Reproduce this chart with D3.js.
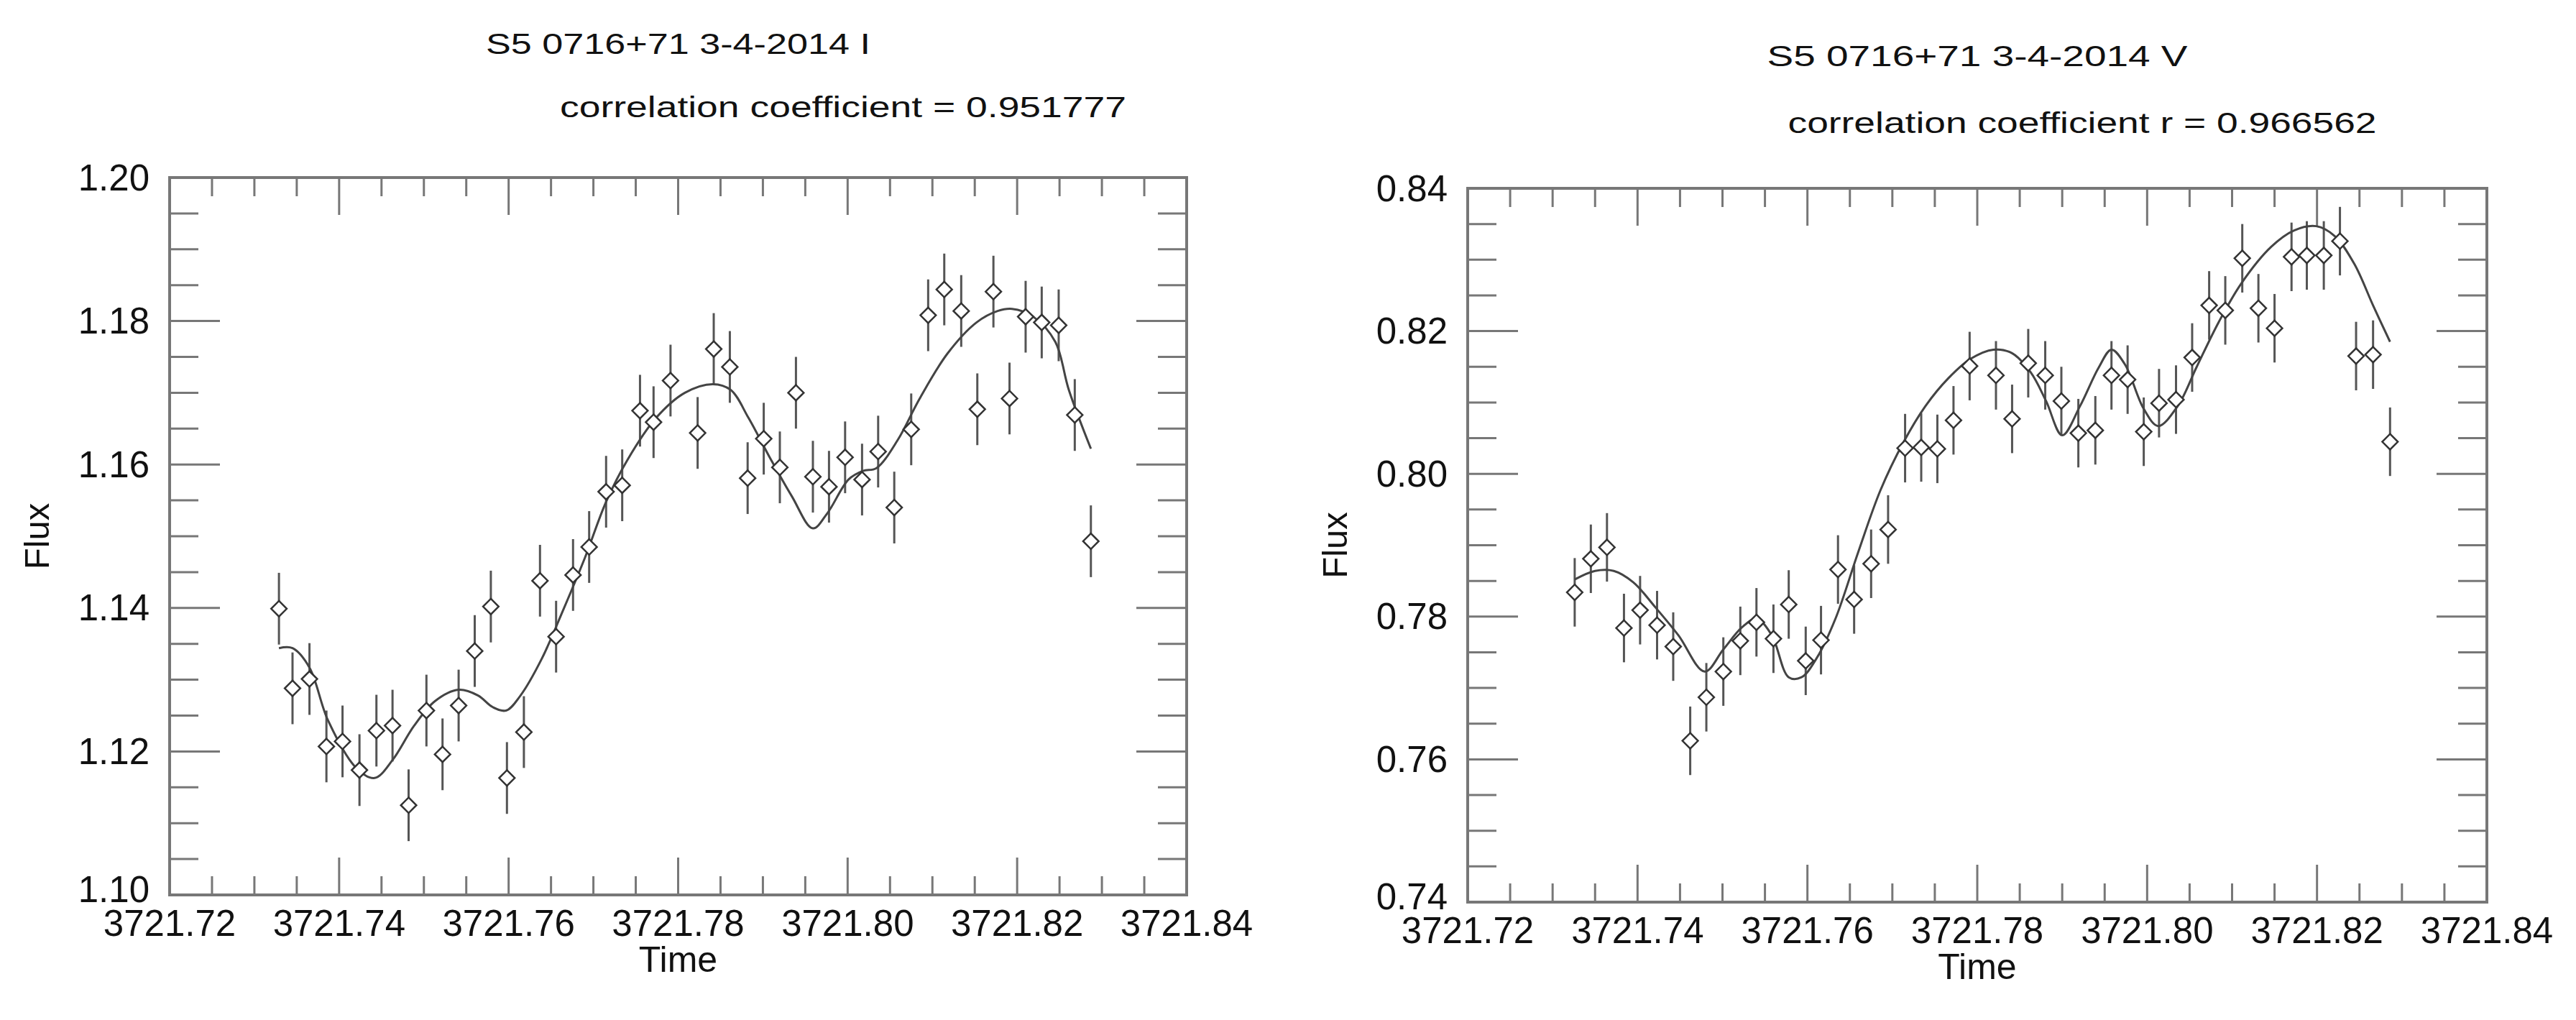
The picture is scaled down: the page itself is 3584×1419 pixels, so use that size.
<!DOCTYPE html>
<html><head><meta charset="utf-8">
<script src="https://cdn.jsdelivr.net/npm/d3@7"></script>
<style>body{margin:0;background:#fff}svg{display:block}text{font-family:"Liberation Sans",Arial,sans-serif;fill:#111}</style>
</head><body>
<script>
// ---- data ----
const timeI = [3721.7329,3721.7345,3721.7365,3721.7385,3721.7404,3721.7424,3721.7444,3721.7463,3721.7482,3721.7503,3721.7522,3721.7541,3721.7560,3721.7579,3721.7598,3721.7618,3721.7637,3721.7656,3721.7676,3721.7695,3721.7715,3721.7734,3721.7755,3721.7771,3721.7791,3721.7823,3721.7842,3721.7861,3721.7882,3721.7901,3721.7920,3721.7939,3721.7959,3721.7978,3721.7997,3721.8017,3721.8036,3721.8055,3721.8075,3721.8095,3721.8114,3721.8134,3721.8153,3721.8172,3721.8191,3721.8210,3721.8229,3721.8249,3721.8268,3721.8287];
const fluxI = [1.1399,1.1288,1.1301,1.1207,1.1214,1.1174,1.1229,1.1236,1.1125,1.1257,1.1196,1.1264,1.1340,1.1402,1.1163,1.1227,1.1438,1.1360,1.1446,1.1485,1.1562,1.1571,1.1675,1.1659,1.1717,1.1644,1.1761,1.1736,1.1581,1.1636,1.1596,1.1700,1.1583,1.1569,1.1610,1.1579,1.1618,1.1540,1.1649,1.1808,1.1844,1.1814,1.1677,1.1841,1.1692,1.1806,1.1798,1.1794,1.1669,1.1493];
const errI = 0.005;
const fitTimeI = [3721.7329,3721.7345,3721.7365,3721.7387,3721.7421,3721.7442,3721.7463,3721.7488,3721.7513,3721.7541,3721.7564,3721.7581,3721.7597,3721.7614,3721.7639,3721.7665,3721.7690,3721.7715,3721.7740,3721.7774,3721.7808,3721.7841,3721.7862,3721.7883,3721.7908,3721.7934,3721.7959,3721.7976,3721.8001,3721.8018,3721.8034,3721.8059,3721.8085,3721.8118,3721.8152,3721.8177,3721.8194,3721.8219,3721.8245,3721.8261,3721.8287];
const fitFluxI = [1.1344,1.1344,1.1317,1.1243,1.1176,1.1163,1.1188,1.1235,1.1270,1.1286,1.1278,1.1262,1.1257,1.1278,1.1329,1.1399,1.1470,1.1548,1.1606,1.1665,1.1700,1.1712,1.1704,1.1665,1.1610,1.1556,1.1511,1.1532,1.1579,1.1591,1.1595,1.1634,1.1692,1.1755,1.1798,1.1814,1.1817,1.1806,1.1771,1.1704,1.1622];

const timeV = [3721.7326,3721.7345,3721.7364,3721.7384,3721.7403,3721.7423,3721.7442,3721.7462,3721.7481,3721.7501,3721.7521,3721.7540,3721.7560,3721.7578,3721.7598,3721.7616,3721.7636,3721.7655,3721.7675,3721.7695,3721.7715,3721.7734,3721.7753,3721.7772,3721.7791,3721.7822,3721.7841,3721.7860,3721.7880,3721.7899,3721.7919,3721.7939,3721.7958,3721.7977,3721.7996,3721.8014,3721.8034,3721.8053,3721.8073,3721.8092,3721.8112,3721.8131,3721.8150,3721.8170,3721.8188,3721.8208,3721.8227,3721.8246,3721.8266,3721.8286];
const fluxV = [0.7834,0.7881,0.7897,0.7784,0.7809,0.7788,0.7758,0.7626,0.7687,0.7723,0.7766,0.7792,0.7769,0.7817,0.7738,0.7767,0.7866,0.7824,0.7874,0.7922,0.8036,0.8037,0.8035,0.8075,0.8151,0.8138,0.8077,0.8155,0.8138,0.8102,0.8057,0.8061,0.8138,0.8132,0.8059,0.8099,0.8104,0.8163,0.8236,0.8229,0.8302,0.8232,0.8204,0.8304,0.8306,0.8306,0.8326,0.8165,0.8167,0.8045];
const errV = 0.0048;
const fitTimeV = [3721.7326,3721.7350,3721.7372,3721.7395,3721.7421,3721.7448,3721.7479,3721.7501,3721.7523,3721.7540,3721.7558,3721.7578,3721.7593,3721.7611,3721.7633,3721.7660,3721.7686,3721.7713,3721.7739,3721.7766,3721.7792,3721.7819,3721.7841,3721.7863,3721.7881,3721.7900,3721.7921,3721.7943,3721.7958,3721.7974,3721.7996,3721.8013,3721.8036,3721.8058,3721.8084,3721.8111,3721.8146,3721.8173,3721.8199,3721.8221,3721.8244,3721.8266,3721.8286];
const fitFluxV = [0.7852,0.7864,0.7864,0.7848,0.7813,0.7774,0.7723,0.7754,0.7785,0.7797,0.7774,0.7715,0.7715,0.7742,0.7797,0.7891,0.7977,0.8044,0.8095,0.8134,0.8161,0.8174,0.8169,0.8142,0.8102,0.8054,0.8095,0.8149,0.8174,0.8153,0.8091,0.8067,0.8095,0.8149,0.8212,0.8267,0.8318,0.8341,0.8347,0.8333,0.8294,0.8236,0.8185];

const xTicks = [3721.72,3721.74,3721.76,3721.78,3721.80,3721.82,3721.84];
const yTicksI = [1.10,1.12,1.14,1.16,1.18,1.20];
const yTicksV = [0.74,0.76,0.78,0.80,0.82,0.84];
const titles = ["S5 0716+71 3-4-2014 I","S5 0716+71 3-4-2014 V"];
const corrTexts = ["correlation coefficient = 0.951777","correlation coefficient r = 0.966562"];

// ---- drawing ----
const W=3584,H=1419;
const svg=d3.select("body").append("svg").attr("width",W).attr("height",H);

function panel(cfg){
  const {x0,x1,y0,y1,yDom,yTicks,time,flux,err,ft,ff,title,titleY,corr,corrCx,corrY,corrLen,titleLen}=cfg;
  const x=d3.scaleLinear().domain([3721.72,3721.84]).range([x0,x1]);
  const y=d3.scaleLinear().domain(yDom).range([y1,y0]);
  const g=svg.append("g");
  const axCol="#777";
  g.append("rect").attr("x",x0).attr("y",y0).attr("width",x1-x0).attr("height",y1-y0)
    .attr("fill","none").attr("stroke",axCol).attr("stroke-width",4);
  const xMinor=d3.range(0,25).map(i=>3721.72+i*0.005).filter(v=>v>3721.7201&&v<3721.8399);
  xMinor.forEach(v=>{
    const major=xTicks.some(t=>Math.abs(t-v)<1e-6);
    const L=major?52:26;
    g.append("line").attr("x1",x(v)).attr("x2",x(v)).attr("y1",y1).attr("y2",y1-L).attr("stroke",axCol).attr("stroke-width",3);
    g.append("line").attr("x1",x(v)).attr("x2",x(v)).attr("y1",y0).attr("y2",y0+L).attr("stroke",axCol).attr("stroke-width",3);
  });
  const yMinor=d3.range(0,21).map(i=>yDom[0]+i*0.005).filter(v=>v>yDom[0]+1e-6&&v<yDom[1]-1e-6);
  yMinor.forEach(v=>{
    const major=yTicks.some(t=>Math.abs(t-v)<1e-6);
    const L=major?70:40;
    g.append("line").attr("x1",x0).attr("x2",x0+L).attr("y1",y(v)).attr("y2",y(v)).attr("stroke",axCol).attr("stroke-width",3);
    g.append("line").attr("x1",x1).attr("x2",x1-L).attr("y1",y(v)).attr("y2",y(v)).attr("stroke",axCol).attr("stroke-width",3);
  });
  xTicks.forEach(v=>g.append("text").attr("x",x(v)).attr("y",y1+57).attr("text-anchor","middle")
    .attr("font-size",51).text(v.toFixed(2)));
  yTicks.forEach(v=>g.append("text").attr("x",x0-28).attr("y",y(v)-(v===yDom[0]?8:0)).attr("text-anchor","end")
    .attr("dominant-baseline","central").attr("font-size",51).text(v.toFixed(2)));
  g.append("text").attr("x",(x0+x1)/2).attr("y",y1+107).attr("text-anchor","middle").attr("font-size",50).text("Time");
  g.append("text").attr("transform",`translate(${x0-168},${(y0+y1)/2}) rotate(-90)`).attr("text-anchor","middle")
    .attr("font-size",49).text("Flux");
  g.append("text").attr("x",(x0+x1)/2).attr("y",titleY).attr("text-anchor","middle").attr("font-size",40)
    .attr("textLength",titleLen).attr("lengthAdjust","spacingAndGlyphs").text(title);
  g.append("text").attr("x",corrCx).attr("y",corrY).attr("text-anchor","middle").attr("font-size",40)
    .attr("textLength",corrLen).attr("lengthAdjust","spacingAndGlyphs").text(corr);
  const pts=time.map((t,i)=>({t,f:flux[i]}));
  g.selectAll(".eb").data(pts).join("line").attr("x1",d=>x(d.t)).attr("x2",d=>x(d.t))
    .attr("y1",d=>y(d.f-err)).attr("y2",d=>y(d.f+err)).attr("stroke","#555").attr("stroke-width",3);
  const line=d3.line().x(d=>x(d[0])).y(d=>y(d[1])).curve(d3.curveCatmullRom.alpha(0.5));
  g.append("path").datum(ft.map((t,i)=>[t,ff[i]])).attr("d",line).attr("fill","none")
    .attr("stroke","#444").attr("stroke-width",3);
  const sym=d3.symbol().type(d3.symbolDiamond2).size(300);
  g.selectAll(".pt").data(pts).join("path").attr("d",sym)
    .attr("transform",d=>`translate(${x(d.t)},${y(d.f)})`)
    .attr("fill","#fff").attr("stroke","#333").attr("stroke-width",2.5);
}

panel({x0:236,x1:1651,y0:247,y1:1245,yDom:[1.10,1.20],yTicks:yTicksI,time:timeI,flux:fluxI,err:errI,
  ft:fitTimeI,ff:fitFluxI,title:titles[0],titleY:75,titleLen:535,corr:corrTexts[0],corrCx:1173,corrY:163,corrLen:788});
panel({x0:2042,x1:3460,y0:262,y1:1255,yDom:[0.74,0.84],yTicks:yTicksV,time:timeV,flux:fluxV,err:errV,
  ft:fitTimeV,ff:fitFluxV,title:titles[1],titleY:92,titleLen:585,corr:corrTexts[1],corrCx:2897,corrY:185,corrLen:819});
</script>
</body></html>
